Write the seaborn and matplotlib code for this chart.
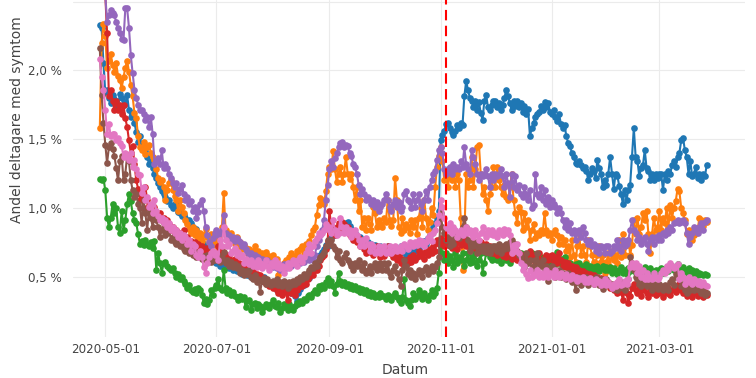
import matplotlib
matplotlib.use("Agg")
import matplotlib.pyplot as plt
import pandas as pd
import seaborn as sns
from matplotlib.ticker import FuncFormatter, FixedLocator

start_date = "2020-04-28"
marker_date = "2020-11-04"

# daily values in percent, 2020-04-28 .. 2021-03-27 (one line per month)
blue = [
    2.33, 2.31, 2.05,
    1.84, 1.86, 1.80, 1.76, 1.82, 1.79, 1.78, 1.74, 1.83, 1.80, 1.75, 1.76, 1.82, 1.71, 1.66, 1.69, 1.62, 1.55, 1.48, 1.52, 1.45, 1.43, 1.41, 1.37, 1.32, 1.34, 1.29, 1.25, 1.22, 1.18, 1.15,
    1.12, 1.10, 1.08, 1.05, 1.06, 1.02, 1.00, 1.03, 1.02, 0.97, 0.96, 0.94, 0.95, 0.93, 0.90, 0.91, 0.89, 0.86, 0.84, 0.85, 0.80, 0.78, 0.75, 0.73, 0.70, 0.68, 0.66, 0.64, 0.62, 0.61,
    0.60, 0.62, 0.58, 0.59, 0.57, 0.63, 0.60, 0.56, 0.57, 0.55, 0.56, 0.54, 0.58, 0.55, 0.52, 0.53, 0.55, 0.51, 0.52, 0.50, 0.53, 0.49, 0.50, 0.51, 0.48, 0.47, 0.50, 0.46, 0.47, 0.45, 0.44,
    0.43, 0.45, 0.40, 0.44, 0.42, 0.39, 0.43, 0.41, 0.40, 0.42, 0.38, 0.43, 0.36, 0.32, 0.38, 0.41, 0.45, 0.44, 0.48, 0.50, 0.49, 0.53, 0.55, 0.58, 0.60, 0.62, 0.66, 0.68, 0.70, 0.73, 0.72,
    0.75, 0.78, 0.80, 0.82, 0.85, 0.83, 0.88, 0.86, 0.84, 0.89, 0.90, 0.87, 0.85, 0.80, 0.82, 0.78, 0.76, 0.79, 0.74, 0.76, 0.73, 0.75, 0.72, 0.74, 0.70, 0.73, 0.71, 0.69, 0.72, 0.70,
    0.71, 0.69, 0.72, 0.70, 0.68, 0.71, 0.69, 0.67, 0.70, 0.72, 0.68, 0.70, 0.66, 0.69, 0.71, 0.68, 0.70, 0.72, 0.69, 0.71, 0.72, 0.74, 0.76, 0.74, 0.78, 0.80, 0.82, 0.86, 0.89, 0.93, 0.98,
    1.49, 1.53, 1.56, 1.61, 1.62, 1.58, 1.55, 1.53, 1.56, 1.60, 1.58, 1.62, 1.60, 1.81, 1.92, 1.86, 1.80, 1.78, 1.73, 1.78, 1.71, 1.77, 1.69, 1.64, 1.78, 1.82, 1.73, 1.71, 1.75, 1.78,
    1.78, 1.73, 1.76, 1.71, 1.75, 1.80, 1.86, 1.81, 1.76, 1.71, 1.78, 1.74, 1.78, 1.73, 1.76, 1.70, 1.74, 1.68, 1.72, 1.52, 1.58, 1.62, 1.66, 1.68, 1.70, 1.74, 1.71, 1.77, 1.73, 1.76, 1.70,
    1.68, 1.71, 1.66, 1.63, 1.68, 1.61, 1.58, 1.60, 1.52, 1.47, 1.45, 1.40, 1.37, 1.33, 1.32, 1.34, 1.31, 1.29, 1.30, 1.27, 1.20, 1.25, 1.29, 1.27, 1.22, 1.35, 1.29, 1.25, 1.15, 1.20, 1.17,
    1.25, 1.37, 1.25, 1.14, 1.25, 1.23, 1.16, 1.10, 1.03, 1.13, 1.06, 1.13, 1.17, 1.37, 1.58, 1.37, 1.34, 1.23, 1.29, 1.31, 1.42, 1.29, 1.27, 1.20, 1.25, 1.20, 1.25, 1.22,
    1.25, 1.25, 1.13, 1.25, 1.20, 1.27, 1.25, 1.31, 1.34, 1.30, 1.37, 1.40, 1.49, 1.51, 1.42, 1.37, 1.25, 1.34, 1.23, 1.25, 1.30, 1.22, 1.25, 1.20, 1.25, 1.23, 1.31,
]
orange = [
    1.58, 2.20, 2.34,
    2.25, 2.02, 2.07, 2.12, 2.04, 1.99, 2.05, 1.96, 1.93, 1.87, 1.95, 2.02, 2.07, 1.99, 1.89, 1.81, 1.69, 1.65, 1.52, 1.44, 1.42, 1.48, 1.39, 1.44, 1.46, 1.40, 1.37, 1.35, 1.28, 1.22, 1.19,
    1.20, 1.15, 1.06, 1.13, 1.18, 1.20, 1.13, 1.09, 1.06, 0.98, 1.06, 1.01, 0.96, 0.91, 0.88, 0.85, 0.82, 0.86, 0.80, 0.84, 0.78, 0.82, 0.76, 0.80, 0.85, 0.79, 0.75, 0.81, 0.77, 0.73,
    0.78, 0.72, 0.80, 0.86, 1.11, 0.84, 0.80, 0.76, 0.82, 0.78, 0.74, 0.79, 0.72, 0.75, 0.70, 0.73, 0.71, 0.67, 0.70, 0.66, 0.69, 0.72, 0.65, 0.69, 0.63, 0.67, 0.64, 0.68, 0.62, 0.65, 0.63,
    0.66, 0.60, 0.63, 0.51, 0.58, 0.55, 0.60, 0.62, 0.57, 0.64, 0.67, 0.62, 0.65, 0.69, 0.66, 0.70, 0.72, 0.68, 0.74, 0.72, 0.76, 0.80, 0.84, 0.86, 0.95, 1.02, 1.07, 1.06, 1.03, 1.12, 1.25,
    1.30, 1.28, 1.41, 1.28, 1.19, 1.25, 1.30, 1.19, 1.25, 1.37, 1.25, 1.21, 1.25, 1.15, 1.06, 1.15, 0.98, 1.06, 0.86, 0.93, 0.84, 0.93, 0.88, 0.84, 1.01, 0.96, 0.86, 0.91, 0.88, 0.86,
    0.93, 0.90, 1.06, 0.91, 0.87, 0.91, 1.22, 1.06, 0.86, 0.82, 0.93, 0.84, 0.88, 0.86, 0.82, 0.91, 0.86, 0.91, 0.81, 0.93, 1.00, 0.86, 1.06, 0.93, 0.84, 0.90, 1.00, 0.95, 1.15, 1.30, 1.38,
    1.44, 1.34, 1.20, 1.22, 1.15, 1.25, 1.20, 1.28, 1.15, 1.25, 1.20, 0.93, 0.55, 0.78, 1.25, 1.15, 1.20, 1.37, 1.15, 1.28, 1.44, 1.46, 1.25, 1.10, 1.15, 1.06, 0.98, 1.10, 1.15, 1.30,
    1.15, 1.30, 1.20, 1.15, 1.10, 1.17, 1.08, 1.06, 1.15, 1.25, 1.06, 0.96, 0.89, 1.01, 0.97, 0.84, 0.96, 0.86, 0.91, 0.77, 0.84, 0.88, 0.78, 0.82, 0.80, 0.84, 0.82, 0.96, 0.84, 0.80, 0.82,
    0.77, 0.82, 0.84, 0.80, 0.74, 0.79, 0.74, 0.77, 0.69, 0.72, 0.64, 0.77, 0.66, 0.61, 0.72, 0.82, 0.66, 0.72, 0.66, 0.61, 0.77, 0.72, 0.66, 0.61, 0.60, 0.66, 0.72, 0.61, 0.66, 0.53, 0.61,
    0.67, 0.57, 0.69, 0.62, 0.66, 0.60, 0.77, 0.64, 0.81, 0.66, 0.73, 0.77, 0.66, 0.73, 0.91, 0.81, 0.93, 0.81, 0.86, 0.96, 0.91, 0.98, 0.81, 0.67, 0.81, 0.93, 0.84, 0.86,
    0.98, 0.84, 0.93, 0.89, 1.00, 0.86, 1.02, 0.93, 1.00, 1.05, 1.14, 1.12, 1.00, 0.96, 0.91, 0.81, 0.84, 0.81, 0.77, 0.80, 0.82, 0.84, 0.93, 0.91, 0.87, 0.91, 0.90,
]
green = [
    1.21, 1.20, 1.21,
    1.13, 0.93, 0.86, 0.93, 1.03, 0.96, 1.00, 0.86, 0.82, 0.98, 0.84, 0.91, 1.03, 1.10, 1.05, 0.96, 0.91, 0.89, 0.81, 0.74, 0.76, 0.73, 0.77, 0.74, 0.72, 0.75, 0.71, 0.76, 0.55, 0.67, 0.60,
    0.53, 0.60, 0.61, 0.58, 0.56, 0.55, 0.56, 0.53, 0.50, 0.52, 0.48, 0.50, 0.47, 0.45, 0.42, 0.44, 0.40, 0.39, 0.41, 0.38, 0.42, 0.40, 0.37, 0.31, 0.34, 0.30, 0.33, 0.40, 0.37, 0.42,
    0.44, 0.48, 0.42, 0.40, 0.55, 0.42, 0.38, 0.40, 0.37, 0.39, 0.36, 0.35, 0.33, 0.36, 0.34, 0.35, 0.28, 0.32, 0.33, 0.26, 0.30, 0.31, 0.27, 0.30, 0.29, 0.24, 0.28, 0.30, 0.29, 0.27, 0.30,
    0.33, 0.29, 0.28, 0.31, 0.24, 0.27, 0.30, 0.28, 0.26, 0.30, 0.28, 0.26, 0.29, 0.31, 0.30, 0.32, 0.31, 0.34, 0.33, 0.36, 0.37, 0.35, 0.38, 0.40, 0.38, 0.43, 0.41, 0.44, 0.42, 0.46, 0.49,
    0.44, 0.47, 0.43, 0.38, 0.45, 0.53, 0.47, 0.44, 0.46, 0.43, 0.45, 0.42, 0.44, 0.41, 0.43, 0.40, 0.42, 0.39, 0.41, 0.38, 0.40, 0.37, 0.39, 0.36, 0.38, 0.35, 0.37, 0.35, 0.38, 0.36,
    0.36, 0.34, 0.37, 0.35, 0.33, 0.36, 0.38, 0.35, 0.33, 0.31, 0.35, 0.48, 0.33, 0.31, 0.29, 0.33, 0.38, 0.34, 0.36, 0.40, 0.37, 0.34, 0.38, 0.35, 0.33, 0.37, 0.40, 0.36, 0.38, 0.42, 0.53,
    0.72, 0.67, 0.62, 0.67, 0.60, 0.65, 0.62, 0.57, 0.67, 0.60, 0.64, 0.62, 0.67, 0.58, 0.62, 0.67, 0.60, 0.64, 0.61, 0.67, 0.58, 0.62, 0.67, 0.53, 0.60, 0.67, 0.69, 0.64, 0.62, 0.66,
    0.64, 0.62, 0.67, 0.60, 0.64, 0.67, 0.62, 0.66, 0.60, 0.64, 0.67, 0.72, 0.68, 0.64, 0.67, 0.62, 0.66, 0.60, 0.64, 0.62, 0.67, 0.63, 0.65, 0.62, 0.60, 0.64, 0.61, 0.58, 0.63, 0.60, 0.62,
    0.60, 0.58, 0.62, 0.68, 0.60, 0.63, 0.58, 0.64, 0.61, 0.57, 0.60, 0.58, 0.55, 0.59, 0.57, 0.60, 0.55, 0.58, 0.56, 0.59, 0.55, 0.58, 0.54, 0.57, 0.55, 0.58, 0.54, 0.56, 0.58, 0.55, 0.57,
    0.55, 0.57, 0.53, 0.56, 0.54, 0.52, 0.55, 0.57, 0.53, 0.55, 0.52, 0.56, 0.54, 0.57, 0.55, 0.53, 0.56, 0.54, 0.52, 0.55, 0.57, 0.53, 0.55, 0.56, 0.54, 0.52, 0.55, 0.53,
    0.55, 0.56, 0.53, 0.55, 0.57, 0.54, 0.56, 0.58, 0.55, 0.57, 0.59, 0.56, 0.54, 0.57, 0.55, 0.53, 0.56, 0.54, 0.55, 0.52, 0.54, 0.51, 0.53, 0.52, 0.51, 0.52, 0.51,
]
red = [
    2.62, 2.70, 2.58,
    2.55, 2.27, 1.81, 1.86, 1.78, 1.71, 1.78, 1.71, 1.75, 1.68, 1.75, 1.65, 1.59, 1.49, 1.40, 1.45, 1.32, 1.20, 1.14, 1.06, 1.10, 1.00, 1.15, 1.06, 1.02, 1.00, 0.98, 1.01, 0.96, 0.93, 0.96,
    0.91, 0.93, 0.86, 0.91, 0.88, 0.84, 0.86, 0.82, 0.84, 0.80, 0.82, 0.79, 0.84, 0.77, 0.79, 0.74, 0.76, 0.72, 0.75, 0.71, 0.74, 0.69, 0.72, 0.70, 0.67, 0.71, 0.66, 0.68, 0.64, 0.66,
    0.67, 0.72, 0.64, 0.69, 0.67, 0.65, 0.63, 0.66, 0.62, 0.60, 0.63, 0.58, 0.61, 0.57, 0.59, 0.55, 0.57, 0.53, 0.55, 0.52, 0.54, 0.50, 0.52, 0.49, 0.51, 0.47, 0.49, 0.45, 0.47, 0.43, 0.45,
    0.42, 0.44, 0.40, 0.38, 0.41, 0.37, 0.42, 0.39, 0.33, 0.40, 0.38, 0.41, 0.37, 0.40, 0.42, 0.44, 0.43, 0.47, 0.45, 0.48, 0.50, 0.53, 0.51, 0.55, 0.55, 0.58, 0.62, 0.64, 0.66, 0.70, 0.76,
    0.98, 0.86, 0.84, 0.80, 0.86, 0.89, 0.85, 0.90, 0.88, 0.83, 0.86, 0.80, 0.82, 0.77, 0.80, 0.75, 0.78, 0.72, 0.74, 0.70, 0.67, 0.71, 0.68, 0.72, 0.66, 0.70, 0.72, 0.67, 0.64, 0.68,
    0.65, 0.70, 0.72, 0.67, 0.69, 0.64, 0.68, 0.62, 0.66, 0.60, 0.63, 0.58, 0.62, 0.60, 0.64, 0.61, 0.66, 0.62, 0.64, 0.69, 0.65, 0.67, 0.63, 0.69, 0.66, 0.70, 0.67, 0.72, 0.69, 0.77, 0.74,
    0.78, 0.75, 0.72, 0.77, 0.73, 0.75, 0.71, 0.76, 0.74, 0.70, 0.77, 0.73, 0.75, 0.78, 0.72, 0.74, 0.70, 0.73, 0.76, 0.71, 0.74, 0.69, 0.75, 0.72, 0.70, 0.74, 0.68, 0.72, 0.70, 0.67,
    0.70, 0.66, 0.72, 0.69, 0.65, 0.68, 0.64, 0.70, 0.67, 0.63, 0.69, 0.66, 0.62, 0.67, 0.64, 0.60, 0.66, 0.62, 0.65, 0.69, 0.63, 0.66, 0.61, 0.64, 0.67, 0.62, 0.60, 0.64, 0.66, 0.62, 0.65,
    0.66, 0.61, 0.64, 0.60, 0.67, 0.62, 0.58, 0.61, 0.57, 0.60, 0.55, 0.58, 0.54, 0.57, 0.52, 0.55, 0.50, 0.54, 0.51, 0.53, 0.49, 0.52, 0.48, 0.51, 0.47, 0.50, 0.46, 0.49, 0.45, 0.48, 0.44,
    0.46, 0.42, 0.44, 0.40, 0.43, 0.38, 0.42, 0.39, 0.33, 0.40, 0.38, 0.31, 0.36, 0.42, 0.45, 0.40, 0.38, 0.42, 0.36, 0.40, 0.43, 0.38, 0.35, 0.41, 0.38, 0.42, 0.37, 0.40,
    0.38, 0.42, 0.35, 0.40, 0.38, 0.42, 0.37, 0.40, 0.44, 0.39, 0.42, 0.45, 0.40, 0.38, 0.42, 0.36, 0.40, 0.38, 0.35, 0.41, 0.38, 0.36, 0.40, 0.37, 0.35, 0.39, 0.37,
]
purple = [
    2.75, 2.82, 2.68,
    2.55, 2.35, 2.40, 2.44, 2.42, 2.40, 2.35, 2.31, 2.27, 2.23, 2.22, 2.45, 2.45, 2.31, 2.11, 1.98, 1.86, 1.80, 1.75, 1.71, 1.71, 1.68, 1.64, 1.66, 1.59, 1.66, 1.54, 1.32, 1.34, 1.36, 1.32,
    1.42, 1.29, 1.32, 1.29, 1.25, 1.22, 1.18, 1.15, 1.18, 1.11, 1.14, 1.17, 1.10, 1.06, 1.08, 1.03, 1.05, 0.98, 1.01, 0.93, 0.97, 1.03, 1.06, 0.98, 0.86, 0.80, 0.75, 0.72, 0.78, 0.82,
    0.84, 0.80, 0.82, 0.84, 0.95, 0.82, 0.79, 0.80, 0.77, 0.79, 0.76, 0.78, 0.77, 0.75, 0.72, 0.74, 0.70, 0.68, 0.65, 0.67, 0.64, 0.66, 0.62, 0.64, 0.60, 0.63, 0.61, 0.59, 0.62, 0.58, 0.60,
    0.57, 0.59, 0.56, 0.58, 0.55, 0.57, 0.59, 0.56, 0.58, 0.60, 0.58, 0.61, 0.59, 0.60, 0.62, 0.60, 0.63, 0.61, 0.64, 0.66, 0.62, 0.64, 0.62, 0.66, 0.72, 0.77, 0.80, 0.84, 0.91, 1.06, 1.17,
    1.28, 1.34, 1.30, 1.36, 1.40, 1.44, 1.47, 1.48, 1.44, 1.46, 1.45, 1.40, 1.38, 1.32, 1.30, 1.25, 1.17, 1.10, 1.14, 1.10, 1.06, 1.08, 1.06, 1.03, 1.06, 1.01, 1.04, 0.98, 1.01, 1.03,
    1.06, 1.10, 1.06, 1.01, 0.98, 1.03, 1.06, 1.01, 1.04, 0.98, 1.01, 1.10, 1.12, 1.06, 1.04, 1.00, 1.10, 1.01, 1.06, 1.10, 1.03, 0.98, 1.06, 1.12, 1.06, 1.15, 1.20, 1.25, 1.27, 1.35, 1.42,
    1.44, 1.40, 1.28, 1.25, 1.28, 1.30, 1.25, 1.32, 1.28, 1.30, 1.28, 1.34, 1.30, 1.44, 1.32, 1.28, 1.25, 1.42, 1.37, 1.32, 1.25, 1.20, 1.25, 1.23, 1.25, 1.28, 1.23, 1.15, 1.25, 1.20,
    1.25, 1.23, 1.25, 1.28, 1.23, 1.15, 1.25, 1.18, 1.08, 1.25, 1.15, 1.23, 1.13, 1.17, 1.10, 1.08, 1.15, 1.10, 1.06, 1.13, 1.00, 1.02, 1.25, 1.10, 1.08, 1.15, 1.06, 1.13, 1.03, 1.08, 1.01,
    1.06, 1.03, 1.01, 0.96, 1.00, 0.96, 0.91, 0.86, 0.91, 0.84, 0.89, 0.82, 0.84, 0.77, 0.82, 0.84, 0.79, 0.86, 0.82, 0.77, 0.74, 0.77, 0.72, 0.74, 0.69, 0.72, 0.67, 0.72, 0.71, 0.67, 0.72,
    0.72, 0.67, 0.69, 0.72, 0.71, 0.77, 0.72, 0.69, 0.77, 0.72, 0.74, 0.77, 0.84, 0.91, 0.84, 0.82, 0.77, 0.79, 0.74, 0.77, 0.79, 0.74, 0.69, 0.77, 0.79, 0.74, 0.79, 0.77,
    0.80, 0.77, 0.82, 0.80, 0.84, 0.82, 0.86, 0.84, 0.89, 0.90, 0.91, 0.89, 0.90, 0.91, 0.89, 0.82, 0.74, 0.79, 0.82, 0.86, 0.84, 0.82, 0.86, 0.89, 0.84, 0.90, 0.91,
]
brown = [
    2.16, 1.82, 1.62,
    1.46, 1.33, 1.44, 1.47, 1.43, 1.38, 1.29, 1.20, 1.34, 1.38, 1.20, 1.25, 1.38, 1.34, 1.20, 1.13, 1.08, 1.10, 1.03, 1.00, 0.89, 1.06, 0.96, 0.84, 1.00, 0.93, 0.86, 0.96, 0.91, 0.86, 0.79,
    0.84, 0.89, 0.80, 0.82, 0.84, 0.77, 0.79, 0.75, 0.74, 0.77, 0.72, 0.74, 0.70, 0.69, 0.72, 0.67, 0.69, 0.66, 0.68, 0.64, 0.67, 0.66, 0.63, 0.65, 0.62, 0.66, 0.63, 0.61, 0.64, 0.62,
    0.64, 0.66, 0.61, 0.63, 0.68, 0.60, 0.62, 0.58, 0.61, 0.57, 0.59, 0.56, 0.58, 0.53, 0.55, 0.51, 0.54, 0.52, 0.55, 0.50, 0.48, 0.51, 0.46, 0.48, 0.39, 0.47, 0.49, 0.45, 0.48, 0.46, 0.44,
    0.47, 0.45, 0.48, 0.44, 0.46, 0.43, 0.47, 0.45, 0.42, 0.46, 0.44, 0.47, 0.45, 0.48, 0.46, 0.50, 0.48, 0.52, 0.50, 0.53, 0.55, 0.57, 0.56, 0.60, 0.58, 0.62, 0.64, 0.66, 0.68, 0.72, 0.77,
    0.74, 0.77, 0.72, 0.70, 0.64, 0.69, 0.62, 0.60, 0.64, 0.67, 0.62, 0.60, 0.58, 0.55, 0.60, 0.58, 0.62, 0.58, 0.55, 0.60, 0.53, 0.55, 0.58, 0.53, 0.57, 0.60, 0.55, 0.58, 0.60, 0.55,
    0.60, 0.55, 0.60, 0.53, 0.50, 0.55, 0.58, 0.53, 0.48, 0.43, 0.55, 0.62, 0.58, 0.52, 0.55, 0.50, 0.53, 0.48, 0.52, 0.55, 0.53, 0.50, 0.55, 0.57, 0.52, 0.55, 0.58, 0.54, 0.57, 0.60, 0.64,
    0.96, 0.86, 0.82, 0.77, 0.79, 0.72, 0.77, 0.74, 0.80, 0.82, 0.78, 0.82, 0.86, 0.93, 0.86, 0.77, 0.69, 0.77, 0.72, 0.75, 0.67, 0.74, 0.70, 0.69, 0.72, 0.68, 0.72, 0.67, 0.70, 0.72,
    0.72, 0.69, 0.74, 0.67, 0.72, 0.70, 0.74, 0.71, 0.75, 0.77, 0.72, 0.74, 0.69, 0.66, 0.64, 0.60, 0.57, 0.67, 0.60, 0.62, 0.55, 0.58, 0.62, 0.67, 0.60, 0.58, 0.62, 0.55, 0.58, 0.47, 0.55,
    0.58, 0.55, 0.50, 0.53, 0.55, 0.50, 0.53, 0.51, 0.48, 0.53, 0.50, 0.46, 0.50, 0.40, 0.46, 0.50, 0.44, 0.48, 0.46, 0.50, 0.44, 0.46, 0.48, 0.45, 0.50, 0.47, 0.44, 0.48, 0.41, 0.46, 0.48,
    0.46, 0.43, 0.45, 0.41, 0.44, 0.40, 0.43, 0.46, 0.42, 0.40, 0.44, 0.48, 0.64, 0.60, 0.55, 0.50, 0.48, 0.45, 0.43, 0.47, 0.45, 0.43, 0.46, 0.44, 0.40, 0.45, 0.43, 0.41,
    0.45, 0.43, 0.40, 0.44, 0.42, 0.40, 0.46, 0.48, 0.44, 0.52, 0.53, 0.48, 0.43, 0.45, 0.40, 0.38, 0.43, 0.40, 0.44, 0.40, 0.43, 0.41, 0.40, 0.38, 0.41, 0.37, 0.38,
]
pink = [
    2.08, 1.95, 1.86,
    1.71, 1.54, 1.61, 1.52, 1.54, 1.54, 1.49, 1.51, 1.47, 1.45, 1.37, 1.40, 1.38, 1.35, 1.40, 1.30, 1.35, 1.28, 1.25, 1.24, 1.11, 1.15, 1.06, 1.08, 1.01, 1.03, 0.96, 1.06, 0.98, 0.94, 0.91,
    0.93, 0.89, 0.91, 0.86, 0.89, 0.84, 0.86, 0.82, 0.84, 0.79, 0.82, 0.77, 0.80, 0.79, 0.74, 0.77, 0.69, 0.74, 0.72, 0.66, 0.64, 0.69, 0.64, 0.57, 0.53, 0.60, 0.64, 0.67, 0.69, 0.66,
    0.67, 0.62, 0.77, 0.72, 0.86, 0.77, 0.72, 0.74, 0.67, 0.69, 0.71, 0.66, 0.68, 0.64, 0.66, 0.60, 0.63, 0.62, 0.59, 0.62, 0.58, 0.60, 0.57, 0.62, 0.60, 0.56, 0.59, 0.62, 0.58, 0.55, 0.60,
    0.58, 0.62, 0.57, 0.60, 0.56, 0.58, 0.53, 0.57, 0.60, 0.56, 0.59, 0.62, 0.60, 0.58, 0.62, 0.64, 0.61, 0.64, 0.67, 0.70, 0.74, 0.67, 0.72, 0.76, 0.78, 0.82, 0.80, 0.82, 0.84, 0.88, 0.85,
    0.86, 0.82, 0.91, 0.84, 0.80, 0.82, 0.93, 0.86, 0.82, 0.86, 0.82, 0.84, 0.79, 0.82, 0.84, 0.80, 0.77, 0.72, 0.77, 0.72, 0.78, 0.74, 0.69, 0.74, 0.72, 0.67, 0.69, 0.72, 0.67, 0.69,
    0.72, 0.67, 0.69, 0.72, 0.67, 0.69, 0.72, 0.69, 0.70, 0.72, 0.69, 0.74, 0.72, 0.70, 0.75, 0.74, 0.72, 0.75, 0.73, 0.77, 0.74, 0.76, 0.72, 0.75, 0.78, 0.80, 0.76, 0.82, 0.84, 0.89, 0.95,
    1.06, 1.01, 0.93, 0.86, 0.84, 0.89, 0.82, 0.86, 0.84, 0.79, 0.82, 0.84, 0.80, 0.82, 0.86, 0.82, 0.84, 0.81, 0.79, 0.84, 0.80, 0.77, 0.82, 0.86, 0.82, 0.79, 0.84, 0.81, 0.84, 0.80,
    0.82, 0.79, 0.84, 0.82, 0.80, 0.85, 0.82, 0.84, 0.80, 0.67, 0.73, 0.69, 0.74, 0.67, 0.60, 0.55, 0.58, 0.52, 0.49, 0.55, 0.50, 0.52, 0.51, 0.55, 0.50, 0.53, 0.50, 0.52, 0.55, 0.50, 0.53,
    0.52, 0.50, 0.55, 0.52, 0.50, 0.53, 0.51, 0.49, 0.52, 0.50, 0.48, 0.51, 0.49, 0.50, 0.47, 0.49, 0.48, 0.50, 0.46, 0.48, 0.46, 0.49, 0.47, 0.45, 0.48, 0.46, 0.47, 0.44, 0.46, 0.48, 0.44,
    0.46, 0.44, 0.42, 0.45, 0.43, 0.46, 0.48, 0.44, 0.45, 0.47, 0.45, 0.48, 0.57, 0.60, 0.57, 0.60, 0.53, 0.58, 0.50, 0.55, 0.48, 0.53, 0.48, 0.50, 0.48, 0.53, 0.50, 0.48,
    0.50, 0.53, 0.55, 0.53, 0.58, 0.55, 0.60, 0.58, 0.56, 0.58, 0.59, 0.48, 0.53, 0.50, 0.45, 0.48, 0.50, 0.46, 0.45, 0.48, 0.46, 0.45, 0.47, 0.44, 0.46, 0.44, 0.43,
]

series_names = ["Serie 1", "Serie 2", "Serie 3", "Serie 4", "Serie 5", "Serie 6", "Serie 7"]
series_values = [blue, orange, green, red, purple, brown, pink]
colors = ["#1f77b4", "#ff7f0e", "#2ca02c", "#d62728", "#9467bd", "#8c564b", "#e377c2"]

y_ticks = [0.5, 1.0, 1.5, 2.0, 2.5]
x_ticks = ["2020-05-01", "2020-07-01", "2020-09-01", "2020-11-01", "2021-01-01", "2021-03-01"]

frames = []
for name, vals in zip(series_names, series_values):
    frames.append(pd.DataFrame({
        "Datum": pd.date_range(start_date, periods=len(vals), freq="D"),
        "Andel": vals,
        "Serie": name,
    }))
df = pd.concat(frames, ignore_index=True)

sns.set_theme(style="white")
plt.rcParams["font.family"] = ["DejaVu Sans"]

W, H = 756, 378
fig = plt.figure(figsize=(W / 100, H / 100), dpi=100)
ax = fig.add_axes([73 / W, 1 - 337 / H, 672 / W, 337 / H])

sns.lineplot(data=df, x="Datum", y="Andel", hue="Serie", hue_order=series_names,
             palette=colors, marker="o", markersize=4.8, markeredgewidth=0,
             linewidth=1.5, legend=False, estimator=None, sort=False, ax=ax)

ax.axvline(pd.Timestamp(marker_date), color="#ff0000", linewidth=1.5,
           linestyle=(0, (5, 2.6)), zorder=10)

ax.set_xlim(pd.Timestamp("2020-04-13 07:00"), pd.Timestamp("2021-04-17"))
ax.set_ylim(0.0618, 2.511)

ax.yaxis.set_major_locator(FixedLocator(y_ticks))
ax.yaxis.set_major_formatter(FuncFormatter(
    lambda v, p: "" if v > 2.4 else f"{v:.1f}".replace(".", ",") + " %"))
ax.set_xticks([pd.Timestamp(t) for t in x_ticks])
ax.set_xticklabels(x_ticks)

for s in ax.spines.values():
    s.set_visible(False)
ax.grid(True, color="#ebebeb", linewidth=0.8)
ax.set_axisbelow(True)
ax.tick_params(axis="both", length=0, labelsize=8.6, colors="#444444")
ax.tick_params(axis="y", pad=8)
ax.tick_params(axis="x", pad=4)
ax.set_xlabel("")
ax.set_ylabel("")

fig.text(405 / W, 1 - 370 / H, "Datum", ha="center", va="center",
         fontsize=10, color="#444444")
fig.text(17 / W, 1 - 120 / H, "Andel deltagare med symtom", ha="center", va="center",
         rotation=90, fontsize=10, color="#444444")

fig.savefig("out.png", dpi=100)
